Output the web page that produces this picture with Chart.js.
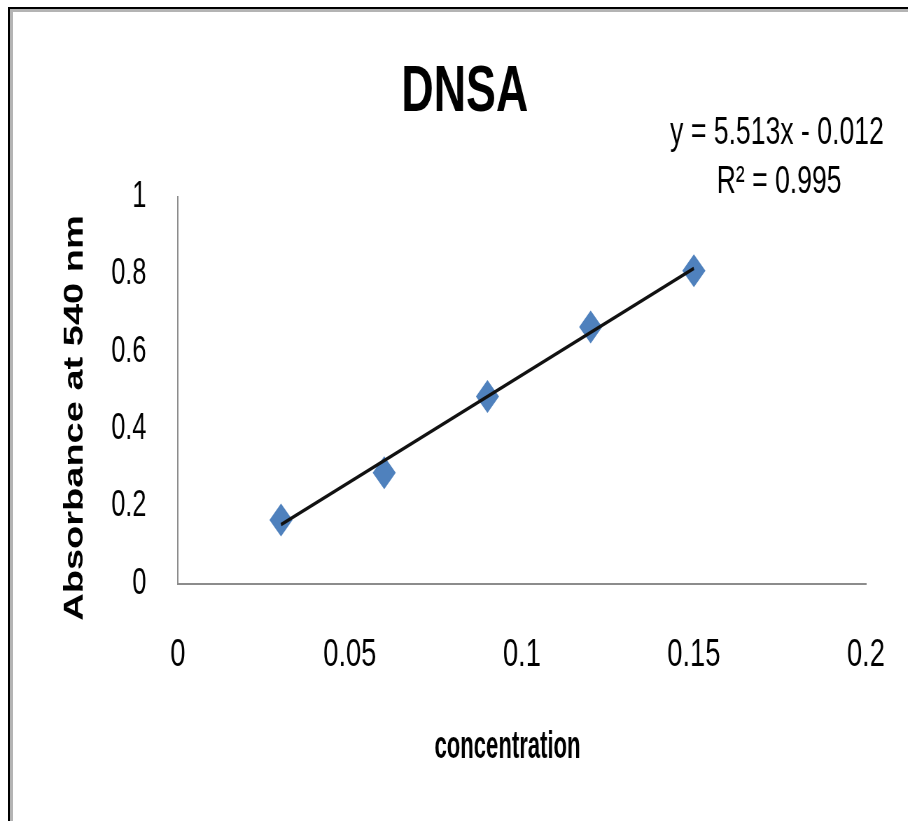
<!DOCTYPE html>
<html>
<head>
<meta charset="utf-8">
<title>DNSA</title>
<script src="https://cdn.jsdelivr.net/npm/chart.js@4.4.1/dist/chart.umd.min.js"></script>
<style>
  html, body { margin: 0; padding: 0; background: #fff; overflow: hidden; }
  /* the original picture is squeezed horizontally, so draw wide and squeeze */
  #wrap { position: absolute; left: 0; top: 0; width: 1297px; height: 821px;
          transform: scaleX(0.7); transform-origin: 0 0; }
  #frame { position: absolute; left: 8px; top: 7px; width: 1000px; height: 900px;
           border-left: 2px solid #000; border-top: 2px solid #000;
           box-shadow: inset 3px 3px 0 #b4b4b4; pointer-events: none; }
</style>
</head>
<body>
<div id="wrap"><canvas id="chart"></canvas></div>
<div id="frame"></div>
<script>
// --- data ---
const concentration = [0.03, 0.06, 0.09, 0.12, 0.15];
const absorbance = [0.165, 0.287, 0.484, 0.664, 0.809];
const xTickLabels = ['0', '0.05', '0.1', '0.15', '0.2'];
const yTickLabels = ['0', '0.2', '0.4', '0.6', '0.8', '1'];
const chartTitle = 'DNSA';
const xTitle = 'concentration';
const yTitle = 'Absorbance at 540 nm';
const equationLines = ['y = 5.513x - 0.012', 'R\u00B2 = 0.995'];
// linear trendline as printed on the chart
const trendSlope = 5.513;
const trendIntercept = -0.012;
const trendRange = [0.03, 0.15];

const FONT = "'Liberation Sans', Arial, sans-serif";

const trendPoints = trendRange.map(x => ({ x: x, y: trendSlope * x + trendIntercept }));
const points = concentration.map((x, i) => ({ x: x, y: absorbance[i] }));

// axis titles and the trendline label
const textPlugin = {
    id: 'extraText',
    afterDraw(chart) {
        const ctx = chart.ctx;
        ctx.save();
        ctx.fillStyle = '#000';
        ctx.textAlign = 'center';
        ctx.textBaseline = 'alphabetic';

        ctx.save();
        ctx.translate(118, 418);
        ctx.rotate(-Math.PI / 2);
        ctx.font = 'bold 38px ' + FONT;
        ctx.fillText(yTitle, 0, 0);
        ctx.restore();

        // x title is a condensed face in the original
        ctx.save();
        ctx.translate(725, 758);
        ctx.scale(0.83, 1);
        ctx.font = 'bold 38px ' + FONT;
        ctx.fillText(xTitle, 0, 0);
        ctx.restore();

        ctx.font = '38px ' + FONT;
        ctx.fillText(equationLines[0], 1110, 144);
        ctx.fillText(equationLines[1], 1113, 193);
        ctx.restore();
    }
};

new Chart(document.getElementById('chart').getContext('2d'), {
    type: 'scatter',
    data: {
        datasets: [{
            label: 'Linear',
            data: trendPoints,
            showLine: true,
            borderColor: '#111',
            borderWidth: 3.5,
            pointRadius: 0,
            order: 0
        }, {
            label: 'DNSA',
            data: points,
            pointStyle: 'rectRot',
            pointRadius: 16.5,
            pointHoverRadius: 16.5,
            backgroundColor: '#4f81bd',
            borderWidth: 0,
            order: 1
        }]
    },
    options: {
        responsive: true,
        maintainAspectRatio: false,
        animation: false,
        layout: { padding: { left: 91, right: 60, top: 0, bottom: 0 } },
        plugins: {
            legend: { display: false },
            tooltip: { enabled: false },
            title: {
                display: true,
                text: chartTitle,
                color: '#000',
                font: { family: FONT, size: 64, weight: 'bold' },
                padding: { top: 55, bottom: 65 }
            }
        },
        scales: {
            x: {
                type: 'linear',
                min: 0,
                max: 0.2,
                afterFit: s => { s.height = 237; s.paddingLeft = 0; s.paddingRight = 20; },
                grid: { display: false, drawTicks: false },
                border: { display: true, color: '#8c8c8c', width: 2 },
                ticks: {
                    stepSize: 0.05,
                    padding: 48,
                    color: '#000',
                    font: { family: FONT, size: 39 },
                    callback: (v, i) => xTickLabels[i]
                }
            },
            y: {
                type: 'linear',
                min: 0,
                max: 1,
                afterFit: s => { s.width = 163; },
                grid: { display: false, drawTicks: false },
                border: { display: true, color: '#8c8c8c', width: 2 },
                ticks: {
                    stepSize: 0.2,
                    padding: 45,
                    color: '#000',
                    font: { family: FONT, size: 36 },
                    callback: (v, i) => yTickLabels[i]
                }
            }
        }
    },
    plugins: [textPlugin]
});
</script>
</body>
</html>
